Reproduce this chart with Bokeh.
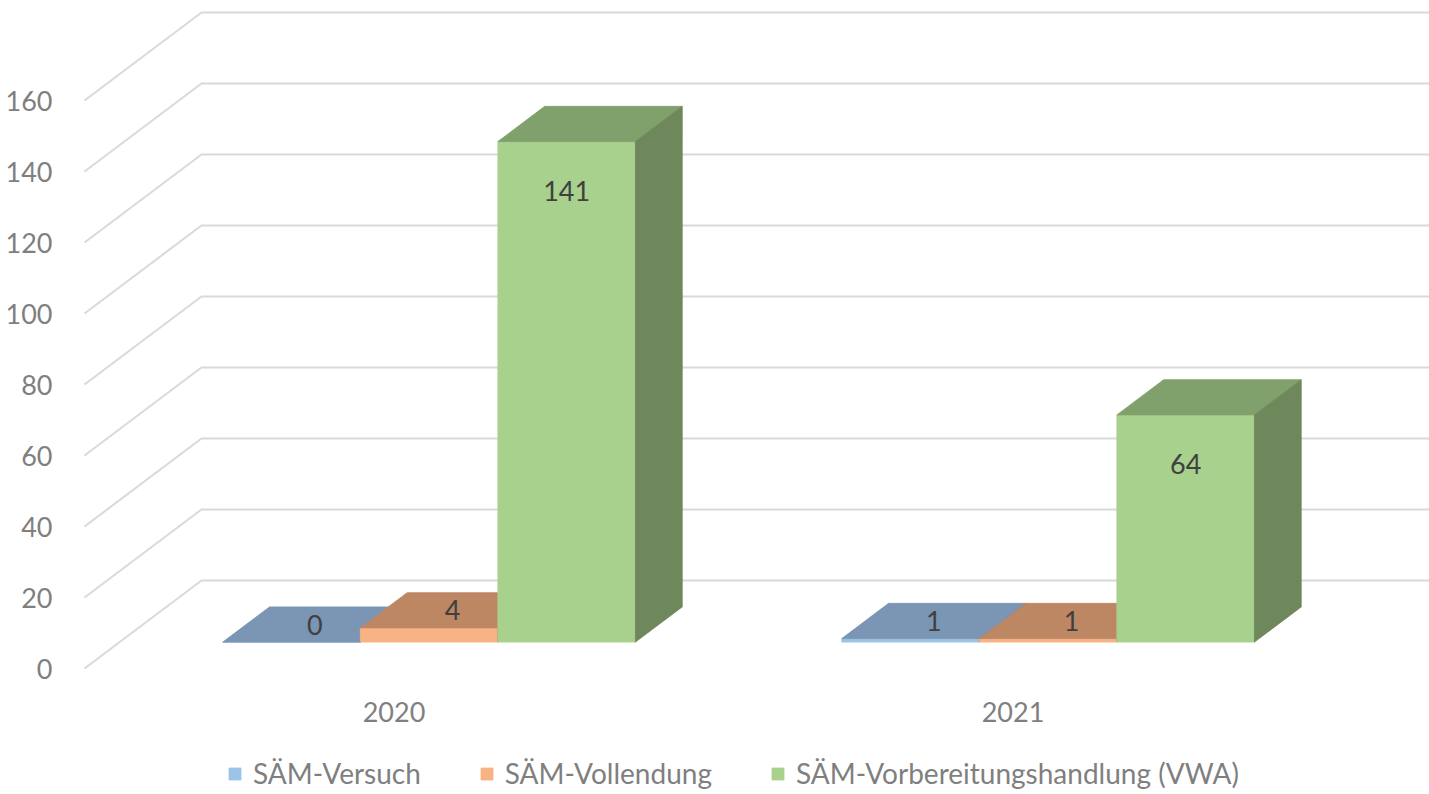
from bokeh.plotting import figure
from bokeh.models import Range1d, FixedTicker, Legend, LegendItem
from bokeh.embed import file_html
from bokeh.resources import INLINE
from bokeh.core.properties import value

# ---------------- data ----------------
categories = ["2020", "2021"]
series_names = ["SÄM-Versuch", "SÄM-Vollendung", "SÄM-Vorbereitungshandlung (VWA)"]
versuch = [0, 1]
vollendung = [4, 1]
vorbereitung = [141, 64]
y_ticks = [0, 20, 40, 60, 80, 100, 120, 140, 160]

series_values = [versuch, vollendung, vorbereitung]

# ---------------- styles ----------------
front_colors = ["#9DC3E6", "#F8B384", "#A9D18E"]
top_colors = ["#7A96B4", "#BE8763", "#80A16B"]
side_colors = ["#67809B", "#A37353", "#6E885B"]
FONT = "Lato"
AXIS_COLOR = "#7F7F7F"
LABEL_COLOR = "#404040"
GRID_COLOR = "#D9D9D9"

W, H = 1429, 794
LEFT = 83
PX_X = 619.0     # pixels per category band
PX_Y = 3.55      # pixels per value unit
ZERO_Y = 668     # figure px (from top) of value 0 at front edge
DX = 117.0 / PX_X   # depth offset in x data units
DY = 88.0 / PX_Y    # depth offset in y data units
GAP = 1.0 / 6.0
BAR_W = 2.0 / 9.0
D0, D1 = 0.3, 0.7


def proj(x, v, d):
    return x + d * DX, v + d * DY


x0r = -1.0 / PX_X
p = figure(width=W, height=H,
           x_range=Range1d(x0r, x0r + (W - LEFT) / PX_X),
           y_range=Range1d(-(H - ZERO_Y) / PX_Y, ZERO_Y / PX_Y),
           output_backend="svg", toolbar_location=None,
           x_axis_location=None, y_axis_location="left",
           min_border_left=LEFT, min_border_right=0,
           min_border_top=0, min_border_bottom=0)
p.outline_line_color = None
p.grid.visible = False
p.background_fill_color = "white"
p.border_fill_color = "white"

ax = p.yaxis[0]
ax.ticker = FixedTicker(ticks=y_ticks)
ax.axis_line_color = None
ax.major_tick_line_color = None
ax.minor_tick_line_color = None
ax.major_label_text_font = FONT
ax.major_label_text_font_size = "27px"
ax.major_label_text_color = AXIS_COLOR
ax.major_label_standoff = 25

# ---------------- 3D gridlines (floor diagonals + back wall) ----------------
n_cat = len(categories)
gxs, gys = [], []
for t in y_ticks:
    fx, fy = proj(0, t, 0)
    bx, by = proj(0, t, 1)
    ex, ey = proj(n_cat + 0.2, t, 1)
    gxs.append([fx, bx, ex])
    gys.append([fy, by, ey])
p.multi_line(gxs, gys, line_color=GRID_COLOR, line_width=2)

# ---------------- bars ----------------
legend_items = []
lab_x, lab_y, lab_t = [], [], []
for s, vals in enumerate(series_values):
    fxs, fys, txs, tys, sxs, sys_ = [], [], [], [], [], []
    for c, v in enumerate(vals):
        xa = c + GAP + s * BAR_W
        xb = xa + BAR_W
        front = [proj(xa, 0, D0), proj(xb, 0, D0), proj(xb, v, D0), proj(xa, v, D0)]
        top = [proj(xa, v, D0), proj(xb, v, D0), proj(xb, v, D1), proj(xa, v, D1)]
        side = [proj(xb, 0, D0), proj(xb, 0, D1), proj(xb, v, D1), proj(xb, v, D0)]
        fxs.append([q[0] for q in front]); fys.append([q[1] for q in front])
        txs.append([q[0] for q in top]); tys.append([q[1] for q in top])
        sxs.append([q[0] for q in side]); sys_.append([q[1] for q in side])
        xc = (xa + xb) / 2
        if v >= 20:
            lx, ly = proj(xc, v, D0)
            ly -= 49 / PX_Y
        else:
            lx, ly = proj(xc, v, 0.5)
        lab_x.append(lx); lab_y.append(ly); lab_t.append(str(v))
    rf = p.patches(fxs, fys, fill_color=front_colors[s], line_color=front_colors[s], line_width=0.8)
    p.patches(txs, tys, fill_color=top_colors[s], line_color=top_colors[s], line_width=0.8)
    p.patches(sxs, sys_, fill_color=side_colors[s], line_color=side_colors[s], line_width=0.8)
    legend_items.append(LegendItem(label=series_names[s], renderers=[rf]))

p.text(x=lab_x, y=lab_y, text=lab_t, text_font=value(FONT), text_font_size="27px",
       text_color=LABEL_COLOR, text_align="center", text_baseline="middle")

# ---------------- category labels ----------------
cat_x = [c + 0.5 for c in range(n_cat)]
cat_y = [-43 / PX_Y] * n_cat
p.text(x=cat_x, y=cat_y, text=categories, text_font=value(FONT), text_font_size="27px",
       text_color=AXIS_COLOR, text_align="center", text_baseline="middle")

# ---------------- legend ----------------
legend = Legend(items=legend_items, orientation="horizontal", location=(144, 4),
                glyph_width=15, glyph_height=15, label_standoff=11, spacing=58,
                label_text_font=FONT, label_text_font_size="28px", label_text_color=AXIS_COLOR,
                padding=0, margin=0, border_line_color=None, background_fill_alpha=0)
p.add_layout(legend)

open("out.html", "w").write(file_html(p, INLINE, title="Chart"))
